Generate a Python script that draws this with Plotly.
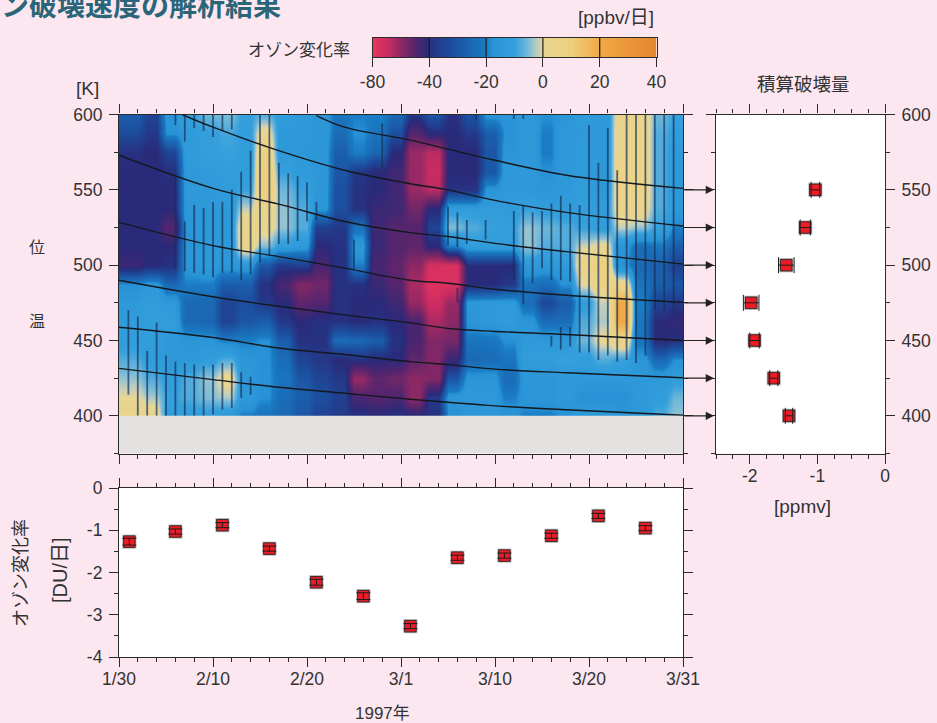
import numpy as np
import plotly.graph_objects as go

W, H = 937, 723
BG = "#fce7f1"
INK = "#333333"
LINE = "#2b2b2b"
FONT = "Liberation Sans, Noto Sans CJK JP, sans-serif"
JP = "Noto Sans CJK JP, sans-serif"

theta_rows = [600, 587.5, 575, 562.5, 550, 537.5, 525, 512.5, 500, 487.5, 475, 462.5, 450, 437.5, 425, 412.5, 400]
day_cols = [d + 0.5 for d in range(1, 60, 2)]

col01 = [-28, -33, -40, -42, -42, -42, -42, -42, -45, -18, -14, -12, -12, -8, -4, 0, 4]
col03 = [-35, -38, -42, -42, -42, -42, -42, -42, -42, -15, -12, -12, -12, -12, -8, -3, 3]
col05 = [-16, -18, -35, -40, -42, -42, -50, -42, -40, -25, -14, -12, -14, -14, -12, -10, -12]
col07 = [-10, -13, -13, -14, -14, -15, -16, -16, -16, -20, -25, -25, -16, -14, -8, -8, -12]
col09 = [-6, -11, -11, -13, -14, -14, -14, -14, -14, -20, -25, -26, -16, -12, -4, -5, -12]
col11 = [-5, -9, -10, -12, -13, -14, -14, -14, -15, -28, -35, -35, -20, -8, 2, -3, -14]
col13 = [-10, -11, -12, -12, -10, -2, 5, 4, -14, -28, -32, -30, -20, -16, -14, -14, -20]
col15 = [-8, 3, 8, 10, 10, 4, 3, -5, -30, -40, -38, -28, -18, -18, -18, -18, -22]
col17 = [-12, -14, -14, -10, -6, -4, -4, -12, -38, -48, -42, -38, -28, -24, -22, -24, -25]
col19 = [-14, -14, -15, -13, -10, -8, -8, -14, -36, -58, -52, -42, -40, -35, -30, -28, -30]
col21 = [-15, -15, -15, -15, -15, -16, -36, -42, -48, -55, -50, -40, -40, -38, -35, -32, -35]
col23 = [-22, -24, -28, -30, -32, -32, -38, -40, -40, -40, -40, -40, -24, -42, -38, -36, -38]
col25 = [-20, -18, -20, -38, -40, -40, -22, -15, -20, -40, -42, -42, -25, -40, -62, -48, -40]
col27 = [-20, -22, -26, -42, -42, -45, -46, -45, -48, -45, -42, -40, -28, -42, -52, -50, -42]
col29 = [-25, -32, -42, -46, -46, -46, -50, -50, -52, -50, -46, -42, -40, -42, -55, -48, -40]
col31 = [-38, -50, -62, -62, -62, -55, -50, -52, -60, -65, -62, -48, -48, -52, -60, -60, -42]
col33 = [-30, -42, -68, -70, -68, -42, -35, -42, -74, -76, -72, -65, -58, -58, -58, -38, -40]
col35 = [-40, -42, -42, -42, -40, -12, -5, -20, -75, -75, -62, -60, -56, -45, -30, -15, -18]
col37 = [-30, -38, -42, -42, -40, -12, -8, -12, -42, -42, -15, -16, -22, -25, -16, -14, -16]
col39 = [-16, -28, -30, -30, -16, -12, -10, -12, -42, -42, -14, -14, -22, -24, -16, -14, -15]
col41 = [-16, -18, -16, -14, -14, -13, -11, -12, -42, -38, -14, -13, -18, -22, -24, -20, -16]
col43 = [-14, -14, -14, -14, -14, -10, -4, -4, -14, -22, -24, -16, -14, -12, -16, -16, -20]
col45 = [-18, -20, -20, -18, -15, -12, -6, -8, -14, -24, -34, -24, -14, -12, -16, -16, -20]
col47 = [-16, -14, -14, -14, -14, -12, -8, -8, -13, -18, -28, -24, -14, -10, -14, -14, -18]
col49 = [-13, -14, -13, -13, -12, -11, -10, -1, 6, 0, -12, -8, -6, -12, -14, -18, -14]
col51 = [-14, -14, -14, -14, -14, -12, -12, 2, 8, 6, -2, -3, 1, -8, -14, -18, -14]
col53 = [3, 4, 4, 5, 5, 4, -2, -16, -18, 5, 20, 20, 6, -10, -14, -18, -16]
col55 = [3, 5, 5, 5, 5, 3, -4, -24, -25, -22, -20, -22, -22, -16, -14, -14, -14]
col57 = [-6, -8, -8, -8, -8, -8, -10, -22, -28, -28, -35, -42, -42, -25, -14, -12, -8]
col59 = [-10, -12, -14, -14, -14, -14, -20, -28, -36, -30, -38, -44, -40, -18, -12, -6, -4]
columns = [col01, col03, col05, col07, col09, col11, col13, col15, col17, col19,
           col21, col23, col25, col27, col29, col31, col33, col35, col37, col39,
           col41, col43, col45, col47, col49, col51, col53, col55, col57, col59]

# significance hatches: day, top K, bottom K
hatch_day = [6, 7, 8, 9, 10, 11, 12,
             6, 7, 8, 9, 10, 11, 12, 13, 14, 15, 16, 17, 18, 19, 20, 21, 25, 28,
             1, 2, 3, 4, 5, 6, 7, 8, 9, 10, 11, 12, 13, 14,
             35, 36, 36, 37, 39, 42, 43, 44, 45, 46, 46, 47, 47, 48, 48, 49, 50, 51, 52, 53, 54, 55, 56, 57, 58, 59, 38, 42, 43]
hatch_top = [600, 600, 600, 600, 600, 600, 600,
             559, 529, 540, 538, 542, 542, 550, 562, 576, 600, 600, 568, 561, 559, 555, 542, 517, 594,
             470, 466, 443, 462, 440, 436, 435, 434, 433, 434, 435, 435, 429, 426,
             539, 535, 485, 530, 530, 536, 540, 535, 536, 541, 453, 546, 459, 541, 459, 540, 593, 568, 591, 563, 600, 600, 600, 600, 600, 600, 600, 600, 600]
hatch_bot = [593, 582, 591, 589, 585, 589, 590,
             498, 496, 495, 494, 492, 495, 495, 490, 494, 502, 506, 514, 514, 516, 529, 530, 497, 564,
             414, 400, 400, 400, 400, 400, 400, 400, 400, 401, 404, 405, 412, 414,
             513, 512, 475, 514, 517, 490, 474, 488, 498, 490, 446, 490, 444, 489, 446, 442, 442, 437, 440, 436, 437, 435, 440, 470, 470, 469, 596, 597, 597]

# potential temperature curves along the flow
curve_day = [0, 10, 17, 24, 31, 35, 40, 47.6, 60]
curve_400 = [431.5, 424, 419, 415, 411, 409, 406.6, 404, 400.4]
curve_425 = [458.8, 452, 445, 440.7, 436, 434, 431, 428.6, 425.3]
curve_450 = [490, 479, 472.7, 467, 461.7, 458, 456, 454, 450]
curve_475 = [528.4, 513, 505.7, 498, 490, 488, 484, 480, 475.3]
curve_500 = [573, 551, 540.5, 529, 521.6, 519, 514.5, 509, 500.7]
curve_525_day = [6.7, 10, 17, 24, 31, 35, 40, 47.6, 60]
curve_525 = [600, 591.6, 576, 563, 554, 550, 543, 535, 526]
curve_550_day = [21, 24, 31, 35, 40, 47.6, 60]
curve_550 = [599.3, 591.6, 583, 577, 569.6, 559.7, 551]

# right panel
loss_theta = [550, 525, 500, 475, 450, 425, 400]
loss_ppmv = [-1.03, -1.18, -1.46, -1.98, -1.93, -1.645, -1.42]
loss_err = [0.064, 0.075, 0.115, 0.115, 0.07, 0.06, 0.055]

# bottom panel
rate_day = [1.1, 6, 11, 16, 21, 26, 31, 36, 41, 46, 51, 56]
rate_du = [-1.27, -1.03, -0.88, -1.435, -2.23, -2.56, -3.27, -1.65, -1.6, -1.13, -0.66, -0.95]
rate_err = [0.08, 0.06, 0.06, 0.06, 0.07, 0.08, 0.06, 0.06, 0.06, 0.06, 0.06, 0.06]

date_ticks = [0, 10, 20, 30, 40, 50, 60]
date_labels = ["1/30", "2/10", "2/20", "3/1", "3/10", "3/20", "3/31"]

cbar_levels = [-80, -40, -20, 0, 20, 40]
stops_z = [-80, -70, -60, -50, -42, -32, -20, -18, -10, -5, -2, 0, 10, 20, 40]
stops_c = ["#e8365f", "#c92c62", "#8c2864", "#55256e", "#2a2a7a", "#1c4f9f", "#1a7cc4", "#2892d6", "#35a0dc",
           "#7dbcd8", "#c4d0bc", "#e8d694", "#eecf7c", "#efa945", "#e5852f"]
colorscale = [[(z + 80) / 120, c] for z, c in zip(stops_z, stops_c)]


def dx(a, b):
    return [a / W, b / W]


def dy(top, bottom):
    return [1 - bottom / H, 1 - top / H]


fig = go.Figure()

Z = np.array(columns).T[::-1]
Zx = np.repeat(Z, 2, axis=1)
Xc = np.ravel([[d - 0.5, d + 0.5] for d in day_cols])
# first column continues to the left edge of the panel
Zx = np.hstack([Zx[:, :1], Zx])
Xc = np.concatenate([[-0.5], Xc])
fig.add_trace(go.Heatmap(x=Xc, y=theta_rows[::-1], z=Zx, zmin=-80, zmax=40, zsmooth="best",
                         colorscale=colorscale, showscale=False, xaxis="x", yaxis="y", hoverinfo="skip"))

hx, hy = [], []
for d, t, b in zip(hatch_day, hatch_top, hatch_bot):
    hx += [d, d, None]
    hy += [t, b, None]
fig.add_trace(go.Scatter(x=hx, y=hy, mode="lines", line=dict(color="rgba(20,50,90,0.7)", width=1.8),
                         xaxis="x", yaxis="y", showlegend=False, hoverinfo="skip"))

for cx, cy in [(curve_day, curve_400), (curve_day, curve_425), (curve_day, curve_450),
               (curve_day, curve_475), (curve_day, curve_500), (curve_525_day, curve_525),
               (curve_550_day, curve_550)]:
    fig.add_trace(go.Scatter(x=cx, y=cy, mode="lines", line=dict(color="#14181f", width=1.4, shape="spline"),
                             xaxis="x", yaxis="y", showlegend=False, hoverinfo="skip"))


def squares(x, y, xaxis, yaxis, err_x=None, err_y=None, cap=7):
    fig.add_trace(go.Scatter(x=x, y=y, mode="markers", xaxis=xaxis, yaxis=yaxis, showlegend=False, hoverinfo="skip",
                             marker=dict(symbol="square", size=14, color="#b5b0b2", line=dict(width=0))))
    fig.add_trace(go.Scatter(x=x, y=y, mode="markers", xaxis=xaxis, yaxis=yaxis, showlegend=False, hoverinfo="skip",
                             marker=dict(symbol="square", size=11.5, color="#ec1c26", line=dict(width=1, color="#3a2a2a"))))
    ebx = dict(type="data", array=err_x, color="#1c1c1c", thickness=1, width=cap) if err_x else None
    eby = dict(type="data", array=err_y, color="#1c1c1c", thickness=1, width=cap) if err_y else None
    fig.add_trace(go.Scatter(x=x, y=y, mode="markers", xaxis=xaxis, yaxis=yaxis, showlegend=False, hoverinfo="skip",
                             marker=dict(size=1, opacity=0), error_x=ebx, error_y=eby))


squares(rate_day, rate_du, "x2", "y2", err_y=rate_err, cap=7)
squares(loss_ppmv, loss_theta, "x3", "y3", err_x=loss_err, cap=8)

cb_z = np.arange(-80, 41, 1.0)
cb_x = np.interp(cb_z, cbar_levels, range(len(cbar_levels)))
fig.add_trace(go.Heatmap(x=cb_x, y=[0, 1], z=[cb_z, cb_z], zmin=-80, zmax=40, zsmooth="best",
                         colorscale=colorscale, showscale=False, xaxis="x4", yaxis="y4", hoverinfo="skip"))
lx, ly = [], []
for i in range(1, len(cbar_levels) - 1):
    lx += [i, i, None]
    ly += [0, 1, None]
fig.add_trace(go.Scatter(x=lx, y=ly, mode="lines", line=dict(color="#1a1a1a", width=1.2),
                         xaxis="x4", yaxis="y4", showlegend=False, hoverinfo="skip"))

base = dict(showgrid=False, zeroline=False, showline=True, linecolor=LINE, linewidth=1.2, mirror="ticks",
            ticks="outside", ticklen=9, tickwidth=1, tickcolor=LINE, automargin=False,
            tickfont=dict(family=FONT, size=17.5, color=INK))


def minor(vals):
    return dict(tickmode="array", tickvals=list(vals), ticks="outside", ticklen=4, tickwidth=1, tickcolor=LINE)


date_minor = [d for d in range(0, 61, 2) if d % 10]
theta_major = [400, 450, 500, 550, 600]
theta_minor = [375, 425, 475, 525, 575]

layout = dict(
    width=W, height=H, autosize=False, margin=dict(l=0, r=0, t=0, b=0),
    paper_bgcolor=BG, plot_bgcolor="white", showlegend=False,
    xaxis=dict(base, domain=dx(119, 683), range=[0, 60], tickmode="array", tickvals=date_ticks,
               showticklabels=False, minor=minor(date_minor), anchor="y"),
    yaxis=dict(base, domain=dy(114.5, 453.5), range=[375, 600], tickmode="array", tickvals=theta_major,
               ticktext=[str(v) for v in theta_major], minor=minor(theta_minor), anchor="x", ticklabelstandoff=3),
    xaxis2=dict(base, domain=dx(119, 683), range=[0, 60], tickmode="array", tickvals=date_ticks,
                ticktext=date_labels, minor=minor(date_minor), anchor="y2", ticklabelstandoff=-3),
    yaxis2=dict(base, domain=dy(488, 657), range=[-4, 0], tickmode="array", tickvals=[-4, -3, -2, -1, 0],
                ticktext=["-4", "-3", "-2", "-1", "0"], minor=minor([-3.5, -2.5, -1.5, -0.5]), anchor="x2",
                ticklabelstandoff=3),
    xaxis3=dict(base, domain=dx(716, 885), range=[-2.5, 0], tickmode="array", tickvals=[-2, -1, 0],
                ticktext=["-2", "-1", "0"], minor=minor([-2.5, -2.25, -1.75, -1.5, -1.25, -0.75, -0.5, -0.25]),
                anchor="y3", ticklabelstandoff=-3),
    yaxis3=dict(base, domain=dy(114.5, 453.5), range=[375, 600], tickmode="array", tickvals=theta_major,
                ticktext=[str(v) for v in theta_major], minor=minor(theta_minor), anchor="x3", side="right",
                ticklabelstandoff=3),
    xaxis4=dict(base, domain=dx(372.5, 656.5), range=[0, 5], tickmode="array", tickvals=list(range(6)),
                ticktext=[str(v) for v in cbar_levels], anchor="y4", mirror=True),
    yaxis4=dict(base, domain=dy(38, 57), range=[0, 1], showticklabels=False, ticks="", anchor="x4", mirror=True),
    shapes=[dict(type="rect", xref="x", yref="y", x0=0, x1=60, y0=375, y1=400, fillcolor="#e4e2e0",
                 line=dict(width=0), layer="above")],
)
fig.update_layout(**layout)


def note(text, x, y, size=16, color=INK, family=JP, angle=0, xanchor="center", **kw):
    fig.add_annotation(text=text, x=x / W, y=1 - y / H, xref="paper", yref="paper", showarrow=False,
                       font=dict(family=family, size=size, color=color), textangle=angle,
                       xanchor=xanchor, yanchor="middle", **kw)


note("<b>ン破壊速度の解析結果</b>", -1, 4, size=28, color="#2a6578", xanchor="left")
note("[ppbv/日]", 616, 17, size=19, family=FONT)
note("オゾン変化率", 299, 49, size=17)
note("[K]", 87, 88, size=19, family=FONT)
note("積算破壊量", 803, 83, size=18.5)
note("[ppmv]", 802, 507, size=19, family=FONT)
note("位", 37, 246, size=16)
note("温", 37, 320, size=16)
note("オゾン変化率", 19, 573, size=18, angle=-90)
note("[DU/日]", 60, 570, size=20, angle=-90, family=FONT)
note("1997年", 382, 713, size=17, family=FONT)

for t in loss_theta:
    fig.add_annotation(x=-2.5, y=t, xref="x3", yref="y3", ax=-33, ay=0, axref="pixel", ayref="pixel",
                       text="", showarrow=True, arrowhead=2, arrowsize=1.5, arrowwidth=1.1,
                       arrowcolor="#222222", standoff=2)

fig.write_html("out.html", config=dict(displayModeBar=False),
               post_script=f"document.body.style.margin='0';document.body.style.background='{BG}';")
